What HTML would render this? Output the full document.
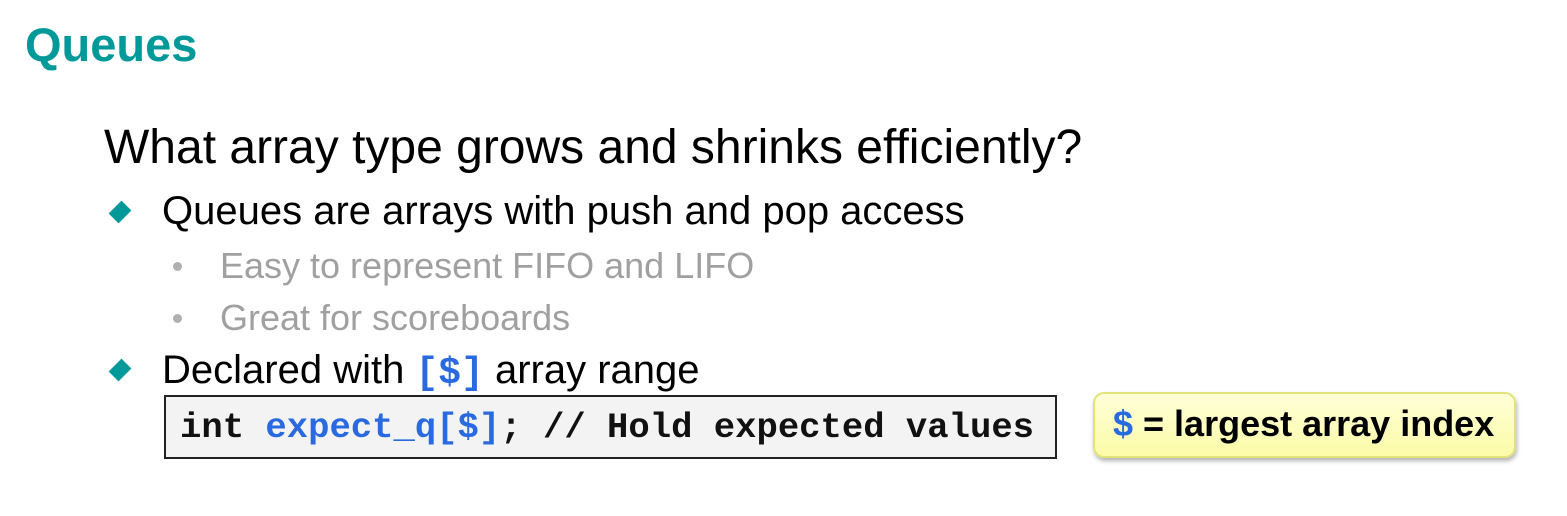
<!DOCTYPE html>
<html><head><meta charset="utf-8"><style>
body{margin:0;width:1567px;height:516px;background:#fff;position:relative;overflow:hidden;font-family:"Liberation Sans",sans-serif}
.a{position:absolute;white-space:nowrap;line-height:1}
.dia{position:absolute;width:14px;height:14px;background:#00999a;transform:rotate(45deg) scaleY(1.3)}
.dot{position:absolute;width:9px;height:9px;border-radius:50%;background:#b0b0b0}
.m{font-family:"Liberation Mono",monospace;font-weight:bold}
</style></head><body>
<div class="a" style="left:25px;top:21px;font-size:47px;font-weight:bold;color:#009999">Queues</div>
<div class="a" style="left:104px;top:124px;font-size:48px;color:#000">What array type grows and shrinks efficiently?</div>
<div class="dia" style="left:113px;top:205px"></div>
<div class="a" style="left:162px;top:191px;font-size:40px;color:#000">Queues are arrays with push and pop access</div>
<div class="dot" style="left:173px;top:262px"></div>
<div class="a" style="left:220px;top:248px;font-size:36px;color:#a0a0a0">Easy to represent FIFO and LIFO</div>
<div class="dot" style="left:173px;top:314px"></div>
<div class="a" style="left:220px;top:300px;font-size:36px;color:#a0a0a0">Great for scoreboards</div>
<div class="dia" style="left:113px;top:363px"></div>
<div class="a" style="left:162px;top:350px;font-size:40px;color:#000">Declared with <span class="m" style="color:#2a6ae0;font-size:38px">[$]</span> array range</div>
<div style="position:absolute;left:164px;top:395px;width:889px;height:60px;border:2px solid #222;background:#f3f3f3"></div>
<div class="a m" style="left:180px;top:410px;font-size:35.6px;color:#111">int <span style="color:#2a6ae0">expect_q[$]</span>; // Hold expected values</div>
<div style="position:absolute;left:1093px;top:392px;width:419px;height:62px;border:2px solid #e2e27a;border-radius:11px;background:linear-gradient(#ffffd8,#fbfba8);box-shadow:1px 3px 4px rgba(0,0,0,.3)"></div>
<div class="a" style="left:1113px;top:406px;font-size:36px;font-weight:bold;color:#000"><span style="color:#2a6ae0">$</span> = largest array index</div>
</body></html>
